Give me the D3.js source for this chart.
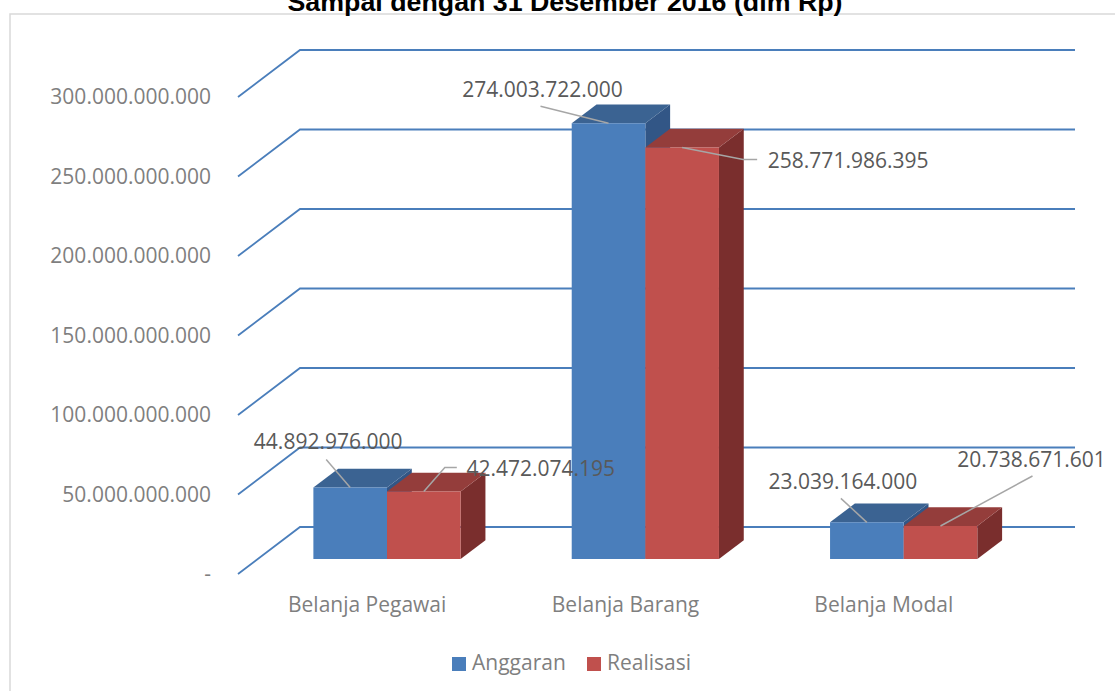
<!DOCTYPE html>
<html>
<head>
<meta charset="utf-8">
<script src="https://cdn.jsdelivr.net/npm/d3@7"></script>
<style>
    body { margin: 0; background: #fff; }
    svg text { font-family: "Open Sans", "Noto Sans", sans-serif; }
</style>
</head>
<body>
<div id="chart"></div>
<script>
// chart data
const titleText = "Sampai dengan 31 Desember 2016 (dlm Rp)";
const categories = ["Belanja Pegawai", "Belanja Barang", "Belanja Modal"];
const seriesNames = ["Anggaran", "Realisasi"];
const anggaranValues = [44892976000, 274003722000, 23039164000];
const realisasiValues = [42472074195, 258771986395, 20738671601];
const yTicks = [0, 50e9, 100e9, 150e9, 200e9, 250e9, 300e9];

// manual data label placement (offsets from the top-front of each bar), Excel style
const labelLayout = [
    {tx: -22, ty: -46, lead: [[-24, -28]]},
    {tx: 117, ty: -23, lead: [[21, -24], [33, -24]]},
    {tx: -66, ty: -34, lead: [[-68, -17]]},
    {tx: 166, ty: 13, lead: [[61, 12], [75, 12]]},
    {tx: -24, ty: -41, lead: [[-26, -24]]},
    {tx: 91, ty: -66, lead: [[92, -50]]}
];

class Column3D {
    constructor(parentElement) {
        this.parentElement = parentElement;
        this.locale = d3.formatLocale({decimal: ",", thousands: ".", grouping: [3], currency: ["Rp", ""]});
        this.fmt = this.locale.format(",.0f");
        this.initVis();
    }

    initVis() {
        let vis = this;

        vis.width = 1115;
        vis.height = 691;

        vis.svg = d3.select("#" + vis.parentElement).append("svg")
            .attr("width", vis.width)
            .attr("height", vis.height);

        // oblique projection of the floor depth
        vis.depth = {dx: 62, dy: -47};
        vis.barZ = [0.32, 0.72];

        vis.x = d3.scaleBand()
            .domain(categories)
            .range([238, 1013])
            .paddingInner(0.43)
            .paddingOuter(0.215);

        vis.xSeries = d3.scaleBand()
            .domain(seriesNames)
            .range([0, vis.x.bandwidth()]);

        vis.y = d3.scaleLinear()
            .domain([0, 300e9])
            .range([574, 97]);

        vis.colors = {
            Anggaran: {front: "#4a7ebb", top: "#3b6392", side: "#325686"},
            Realisasi: {front: "#c0504d", top: "#943d3b", side: "#7a2e2d"}
        };

        // chart frame (clipped by the picture on right and bottom)
        vis.svg.append("rect")
            .attr("x", 10)
            .attr("y", 14)
            .attr("width", 1120)
            .attr("height", 700)
            .attr("fill", "none")
            .attr("stroke", "#d9d9d9")
            .attr("stroke-width", 1.5);

        vis.svg.append("text")
            .attr("x", 565)
            .attr("y", 11)
            .attr("text-anchor", "middle")
            .attr("textLength", 555)
            .attr("lengthAdjust", "spacingAndGlyphs")
            .style("font-family", "'Liberation Sans', Arial, sans-serif")
            .style("font-weight", "bold")
            .style("font-size", "26px")
            .attr("fill", "#000")
            .text(titleText);

        vis.wrangleData();
    }

    proj(x, v, z) {
        let vis = this;
        return [x + z * vis.depth.dx, vis.y(v) + z * vis.depth.dy];
    }

    wrangleData() {
        let vis = this;

        vis.bars = [];
        categories.forEach((cat, i) => {
            seriesNames.forEach((s, j) => {
                vis.bars.push({
                    cat: cat,
                    series: s,
                    value: j === 0 ? anggaranValues[i] : realisasiValues[i]
                });
            });
        });

        vis.updateVis();
    }

    updateVis() {
        let vis = this;
        let line = d3.line();
        let [x0, x1] = vis.x.range();

        // gridlines: side wall diagonal + back wall
        vis.svg.append("g").selectAll("path")
            .data(yTicks)
            .enter().append("path")
            .attr("d", t => line([vis.proj(x0, t, 0), vis.proj(x0, t, 1), vis.proj(x1, t, 1)]))
            .attr("fill", "none")
            .attr("stroke", "#4a7ebb")
            .attr("stroke-width", 1.8);

        // y axis labels
        vis.svg.append("g").selectAll("text")
            .data(yTicks)
            .enter().append("text")
            .attr("x", 211)
            .attr("y", t => vis.y(t))
            .attr("dy", "0.35em")
            .attr("text-anchor", "end")
            .attr("fill", "#7f7f7f")
            .style("font-size", "21px")
            .text(t => t === 0 ? "-" : vis.fmt(t));

        // category labels
        vis.svg.append("g").selectAll("text")
            .data(categories)
            .enter().append("text")
            .attr("x", d => vis.x(d) + vis.x.bandwidth() / 2)
            .attr("y", 612)
            .attr("text-anchor", "middle")
            .attr("fill", "#7f7f7f")
            .style("font-size", "21px")
            .text(d => d);

        // 3D bars
        let zf = vis.barZ[0], zb = vis.barZ[1];
        let barG = vis.svg.append("g");
        vis.bars.forEach(d => {
            let bx0 = vis.x(d.cat) + vis.xSeries(d.series);
            let bx1 = bx0 + vis.xSeries.bandwidth();
            let c = vis.colors[d.series];
            let g = barG.append("g");

            g.append("path")
                .attr("d", line([vis.proj(bx1, 0, zf), vis.proj(bx1, 0, zb), vis.proj(bx1, d.value, zb), vis.proj(bx1, d.value, zf)]) + "Z")
                .attr("fill", c.side);
            g.append("path")
                .attr("d", line([vis.proj(bx0, d.value, zf), vis.proj(bx1, d.value, zf), vis.proj(bx1, d.value, zb), vis.proj(bx0, d.value, zb)]) + "Z")
                .attr("fill", c.top);
            g.append("path")
                .attr("d", line([vis.proj(bx0, 0, zf), vis.proj(bx1, 0, zf), vis.proj(bx1, d.value, zf), vis.proj(bx0, d.value, zf)]) + "Z")
                .attr("fill", c.front);

            d.anchor = vis.proj((bx0 + bx1) / 2, d.value, zf);
        });

        // data labels with leader lines
        let labelG = vis.svg.append("g");
        vis.bars.forEach((d, i) => {
            let lay = labelLayout[i];
            let [ax, ay] = d.anchor;
            let pts = [[ax, ay]].concat(lay.lead.map(p => [ax + p[0], ay + p[1]]));

            labelG.append("path")
                .attr("d", line(pts))
                .attr("fill", "none")
                .attr("stroke", "#a6a6a6")
                .attr("stroke-width", 1.5);

            labelG.append("text")
                .attr("x", ax + lay.tx)
                .attr("y", ay + lay.ty)
                .attr("dy", "0.35em")
                .attr("text-anchor", "middle")
                .attr("fill", "#595959")
                .style("font-size", "21px")
                .text(vis.fmt(d.value));
        });

        // legend
        let legend = vis.svg.append("g")
            .attr("transform", "translate(452, 657)");
        let legendX = [0, 135];
        seriesNames.forEach((s, i) => {
            legend.append("rect")
                .attr("x", legendX[i])
                .attr("y", 0)
                .attr("width", 14)
                .attr("height", 14)
                .attr("fill", vis.colors[s].front);
            legend.append("text")
                .attr("x", legendX[i] + 20)
                .attr("y", 13)
                .attr("fill", "#7f7f7f")
                .style("font-size", "21px")
                .text(s);
        });
    }
}

new Column3D("chart");
</script>
</body>
</html>
